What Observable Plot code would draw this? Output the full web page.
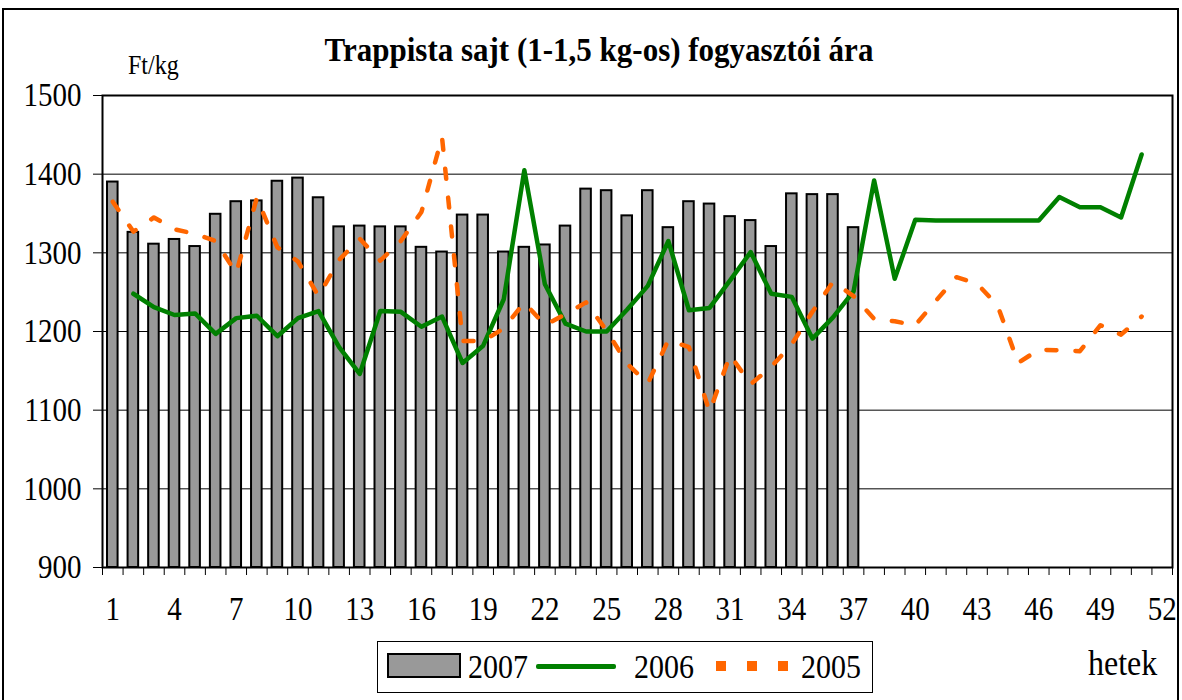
<!DOCTYPE html>
<html>
<head>
<meta charset="utf-8">
<script src="https://cdn.jsdelivr.net/npm/d3@7"></script>
<script src="https://cdn.jsdelivr.net/npm/@observablehq/plot@0.6"></script>
<style>
  body { margin: 0; background: #fff; overflow: hidden; }
  #wrap { position: relative; width: 1182px; height: 700px; font-family: "Liberation Serif", "Times New Roman", serif; color: #000; overflow: hidden; }
  #border { position: absolute; left: 2px; top: 8px; width: 1177px; height: 720px; border: 2px solid #000; box-sizing: border-box; }
  #chart { position: absolute; left: 0; top: 0; }
  #title { position: absolute; left: 8px; width: 1182px; top: 33px; text-align: center; font-weight: bold; font-size: 31px; line-height: 34px; transform: scaleY(1.12); }
  #unit { position: absolute; left: 128px; top: 52px; font-size: 24px; line-height: 26px; transform: scaleY(1.15); }
  #hetek { position: absolute; left: 1088px; top: 645px; font-size: 32px; line-height: 34px; transform: scaleY(1.15); }
  #legend { position: absolute; left: 377px; top: 641px; width: 496px; height: 52px; border: 1px solid #000; box-sizing: border-box; }
  .lg { position: absolute; }
  .lt { position: absolute; top: 7px; font-size: 30px; line-height: 34px; transform: scaleY(1.15); }
</style>
</head>
<body>
<div id="wrap">
  <div id="border"></div>
  <div id="chart"></div>
  <div id="title">Trappista sajt (1-1,5 kg-os) fogyasztói ára</div>
  <div id="unit">Ft/kg</div>
  <div id="legend"></div>
  <div id="hetek">hetek</div>
</div>
<script>
// ---- data ----
const weeks = d3.range(1, 53);
const xTickLabels = [1, 4, 7, 10, 13, 16, 19, 22, 25, 28, 31, 34, 37, 40, 43, 46, 49, 52];
const yTicks = [900, 1000, 1100, 1200, 1300, 1400, 1500];
const gridValues = [1000, 1100, 1200, 1300, 1400];
const seriesNames = ["2007", "2006", "2005"];

// 2007: weekly bars, weeks 1–37
const price2007 = [1390, 1326, 1311, 1317, 1308, 1349, 1365, 1366, 1391, 1395,
  1370, 1333, 1334, 1333, 1333, 1307, 1301, 1348, 1348, 1301,
  1307, 1310, 1334, 1381, 1379, 1347, 1379, 1332, 1365, 1362,
  1346, 1341, 1308, 1375, 1374, 1374, 1332];

// 2006: weeks 1–52 (null = no value)
const price2006 = [null, 1248, 1231, 1221, 1223, 1197, 1217, 1220, 1194, 1217,
  1226, 1180, 1146, 1226, 1225, 1206, 1219, 1160, 1182, 1241,
  1405, 1260, 1210, 1200, 1200, 1228, 1258, 1315, 1227, 1230,
  1265, 1301, 1248, 1244, 1191, 1218, 1251, 1392, 1267, 1342,
  1341, 1341, 1341, 1341, 1341, 1341, 1371, 1358, 1358, 1345,
  1425, null];

// 2005: weeks 1–52
const price2005 = [1365, 1327, 1345, 1330, 1324, 1315, 1274, 1370, 1307, 1289,
  1245, 1291, 1318, 1290, 1315, 1352, 1447, 1188, 1188, 1204,
  1237, 1208, 1222, 1237, 1201, 1159, 1134, 1189, 1180, 1098,
  1170, 1133, 1155, 1184, 1225, 1263, 1245, 1216, 1213, 1208,
  1239, 1269, 1261, 1233, 1160, 1177, 1176, 1175, 1208, 1196,
  1219, null];

const colors = { bar: "#999999", l2006: "#008000", l2005: "#FF6600" };
const serif = "Liberation Serif, Times New Roman, serif";

const toRows = arr => weeks.map((w, i) => ({ week: w, value: arr[i] })).filter(d => d.value != null);

const W = 1182, mL = 102, mR = 10;
const step = (W - mL - mR) / weeks.length;

const chart = Plot.plot({
  width: W,
  height: 640,
  marginLeft: mL,
  marginRight: mR,
  marginTop: 95,
  marginBottom: 73,
  style: { fontFamily: serif, background: "transparent", color: "#000", overflow: "visible" },
  x: { type: "band", domain: weeks, padding: 0, round: false },
  y: { domain: [900, 1500] },
  marks: [
    Plot.ruleY(gridValues, { stroke: "#000", strokeWidth: 1 }),
    Plot.barY(toRows(price2007), { x: "week", y1: 900, y2: "value", fill: colors.bar, stroke: "#000", strokeWidth: 2, insetLeft: 5, insetRight: 5 }),
    Plot.line(toRows(price2006), { x: "week", y: "value", stroke: colors.l2006, strokeWidth: 4.5, strokeLinejoin: "round" }),
    Plot.line(toRows(price2005), { x: "week", y: "value", stroke: colors.l2005, strokeWidth: 4.5, strokeDasharray: "10,19" }),
    Plot.frame({ stroke: "#000", strokeWidth: 2 }),
    Plot.axisY({ ticks: yTicks, tickSize: 9, tickPadding: 12, fontSize: 29, fontFamily: serif, tickFormat: "d", label: null }),
    Plot.axisX({ ticks: weeks, tickSize: 8, fill: "none", dx: -step / 2, label: null }),
    Plot.axisX({ ticks: [52], tickSize: 8, fill: "none", dx: step / 2, label: null }),
    Plot.axisX({ ticks: xTickLabels, tickSize: 0, tickPadding: 29, fontSize: 29, fontFamily: serif, label: null })
  ]
});
document.getElementById("chart").appendChild(chart);

// Stretch tick-label glyphs vertically (the original font rendering is taller/narrower)
d3.select(chart).selectAll("g[aria-label='y-axis tick label'] text, g[aria-label='x-axis tick label'] text")
  .attr("transform", function () { return (this.getAttribute("transform") || "") + " scale(1,1.15)"; });

// ---- legend ----
const lg = document.getElementById("legend");
lg.innerHTML = `
  <div class="lg" style="left:9px;top:11px;width:74px;height:25px;background:${colors.bar};border:2px solid #000;box-sizing:border-box;"></div>
  <div class="lt" style="left:90px;">${seriesNames[0]}</div>
  <div class="lg" style="left:158px;top:22px;width:80px;height:5px;background:${colors.l2006};border-radius:2px;"></div>
  <div class="lt" style="left:256px;">${seriesNames[1]}</div>
  <div class="lg" style="left:338px;top:19px;width:10px;height:10px;background:${colors.l2005};"></div>
  <div class="lg" style="left:369px;top:19px;width:10px;height:10px;background:${colors.l2005};"></div>
  <div class="lg" style="left:400px;top:19px;width:10px;height:10px;background:${colors.l2005};"></div>
  <div class="lt" style="left:423px;">${seriesNames[2]}</div>
`;
</script>
</body>
</html>
